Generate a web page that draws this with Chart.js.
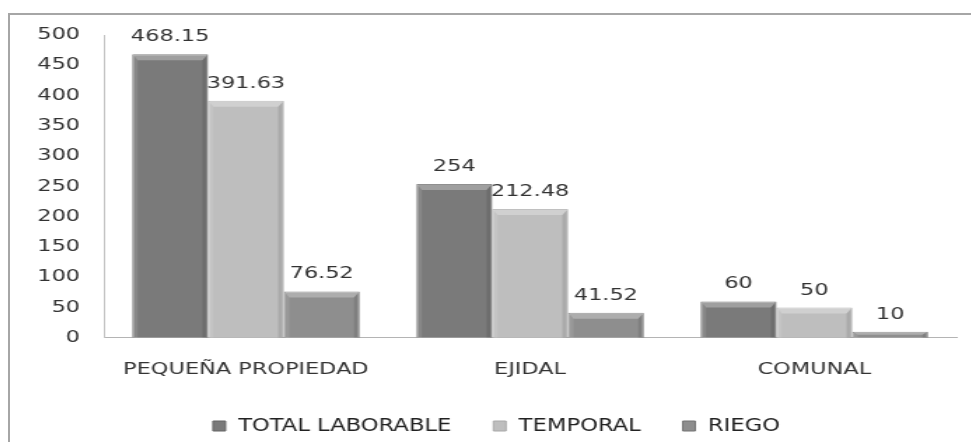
<!DOCTYPE html>
<html>
<head>
<meta charset="utf-8">
<script src="https://cdn.jsdelivr.net/npm/chart.js@4/dist/chart.umd.min.js"></script>
<style>
    html, body { margin: 0; padding: 0; width: 971px; height: 442px; overflow: hidden; background: #fff; }
    #frame { position: absolute; left: 8px; top: 13px; width: 1010px; height: 450px; border: 2px solid #a6a6a6; }
    /* the original picture is stretched sideways, so the chart is drawn narrow and widened */
    #wrap { position: absolute; left: 10px; top: 15px; width: 703px; height: 440px; transform: scaleX(1.4); transform-origin: 0 0; }
</style>
</head>
<body>
<div id="frame"></div>
<div id="wrap"><canvas id="chart"></canvas></div>
<script>
// Data
const categories = ["PEQUEÑA PROPIEDAD", "EJIDAL", "COMUNAL"];
const seriesNames = ["TOTAL LABORABLE", "TEMPORAL", "RIEGO"];
const totalLaborable = [468.15, 254, 60];
const temporal = [391.63, 212.48, 50];
const riego = [76.52, 41.52, 10];
const yMin = 0;
const yMax = 500;
const yStep = 50;

const fillColors = ["#7a7a7a", "#bebebe", "#8e8e8e"];
const edgeColors = ["#646464", "#a8a8a8", "#737373"];

// Bevel look and value labels on top of the bars
const barDecor = {
    id: "barDecor",
    afterDatasetsDraw(chart) {
        const ctx = chart.ctx;
        ctx.save();
        chart.data.datasets.forEach((ds, di) => {
            const meta = chart.getDatasetMeta(di);
            meta.data.forEach((bar, i) => {
                const left = bar.x - bar.width / 2;
                const right = bar.x + bar.width / 2;
                const top = bar.y;
                const base = bar.base;
                const bx = Math.min(4, bar.width / 4);
                const by = Math.min(6, (base - top) / 2);

                ctx.fillStyle = "rgba(255,255,255,0.28)";
                ctx.beginPath();
                ctx.moveTo(left, top);
                ctx.lineTo(right, top);
                ctx.lineTo(right - bx, top + by);
                ctx.lineTo(left + bx, top + by);
                ctx.closePath();
                ctx.fill();

                ctx.fillStyle = "rgba(0,0,0,0.10)";
                ctx.beginPath();
                ctx.moveTo(right, top);
                ctx.lineTo(right, base);
                ctx.lineTo(right - bx, base);
                ctx.lineTo(right - bx, top + by);
                ctx.closePath();
                ctx.fill();

                ctx.fillStyle = "rgba(255,255,255,0.10)";
                ctx.beginPath();
                ctx.moveTo(left, top);
                ctx.lineTo(left + bx, top + by);
                ctx.lineTo(left + bx, base);
                ctx.lineTo(left, base);
                ctx.closePath();
                ctx.fill();

                ctx.fillStyle = "#333333";
                ctx.font = "16px 'DejaVu Sans'";
                ctx.textAlign = "center";
                ctx.textBaseline = "alphabetic";
                ctx.fillText(String(ds.data[i]), bar.x, top - 13);
            });
        });
        ctx.restore();
    }
};

const ctx = document.getElementById("chart").getContext("2d");
new Chart(ctx, {
    type: "bar",
    data: {
        labels: categories,
        datasets: [totalLaborable, temporal, riego].map((values, i) => ({
            label: seriesNames[i],
            data: values,
            backgroundColor: fillColors[i],
            borderColor: edgeColors[i],
            borderWidth: 1,
            categoryPercentage: 0.8,
            barPercentage: 1.0,
        })),
    },
    options: {
        responsive: true,
        maintainAspectRatio: false,
        animation: false,
        layout: { padding: { left: 19, right: 27, top: 20, bottom: 10 } },
        plugins: {
            tooltip: { enabled: false },
            legend: {
                position: "bottom",
                labels: {
                    boxWidth: 9,
                    boxHeight: 10,
                    padding: 30,
                    color: "#222222",
                    font: { family: "'Liberation Sans Narrow', 'DejaVu Sans Condensed', 'DejaVu Sans'", size: 18 },
                },
            },
        },
        scales: {
            x: {
                grid: { display: false, drawTicks: false },
                border: { display: true, color: "#b4b4b4", width: 1 },
                ticks: {
                    padding: 22,
                    color: "#333333",
                    font: { family: "DejaVu Sans", size: 16 },
                },
                afterFit: (scale) => { scale.height = scale.height - 14; },
            },
            y: {
                min: yMin,
                max: yMax,
                grid: { display: false, drawTicks: false },
                border: { display: true, color: "#c4c4c4", width: 1 },
                ticks: {
                    stepSize: yStep,
                    padding: 17,
                    color: "#333333",
                    font: { family: "DejaVu Sans", size: 16 },
                },
                afterFit: (scale) => {
                    scale.width = 48;
                    scale.paddingTop = 0;
                    scale.paddingBottom = 0;
                },
            },
        },
    },
    plugins: [barDecor],
});
</script>
</body>
</html>
